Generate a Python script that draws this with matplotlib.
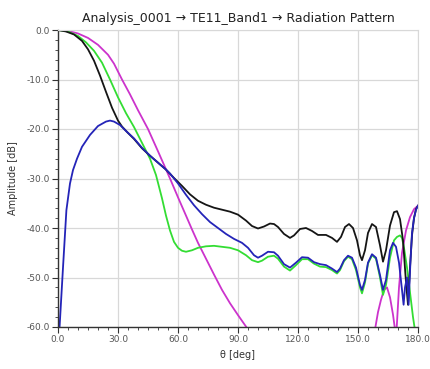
import numpy as np
import matplotlib
matplotlib.use("Agg")
import matplotlib.pyplot as plt
from matplotlib.ticker import MultipleLocator, FormatStrFormatter

# Radiation pattern cuts, theta in degrees, amplitude in dB
theta_black = [0, 4, 8, 12, 15, 18, 21, 24, 27, 30, 32, 35, 38, 42, 46, 50, 54,
               58, 62, 66, 70, 74, 78, 82, 86, 90, 94, 97, 100, 103, 106, 108,
               110, 113, 116, 118, 121, 124, 127, 130, 134, 137, 139.5, 141.5,
               143.5, 145.5, 147.5, 149.5, 151, 152, 153.5, 155, 157, 159, 161,
               162.5, 164, 166, 168, 169.5, 171, 172.5, 174, 175, 176, 177, 178,
               179, 180]
amp_black = [0, -0.3, -0.9, -2.2, -3.9, -6.2, -9.2, -12.5, -15.7, -18.3, -19.5,
             -20.8, -22.0, -23.9, -25.4, -26.8, -28.2, -29.9, -31.5, -33.2,
             -34.5, -35.3, -35.9, -36.3, -36.7, -37.3, -38.5, -39.6, -40.1,
             -39.7, -39.1, -39.2, -39.8, -41.2, -42.0, -41.5, -40.2, -40.0,
             -40.6, -41.4, -41.4, -42.0, -42.8, -41.8, -39.8, -39.2, -40.0,
             -42.5, -45.5, -46.5, -44.5, -41.0, -39.2, -39.8, -43.5, -46.8,
             -44.5, -39.5, -36.8, -36.6, -38.2, -42.5, -51.0, -55.5, -48.0,
             -41.5, -38.0, -36.2, -35.5]

theta_blue = [0.5, 1.5, 2.5, 4.2, 6, 7.5, 9.5, 12, 16, 20, 24, 26, 28, 31, 34,
              38, 42, 46, 50, 54, 56, 60, 64, 68, 72, 76, 80, 84, 88, 92, 95,
              98, 100, 102, 105, 108, 110, 113, 116, 119, 122, 125, 128, 131,
              134, 137, 139.5, 141, 143, 145, 147, 149, 151, 152, 153.5, 155,
              157, 159, 161, 162.5, 164, 166, 167.5, 169, 170.5, 172, 172.8,
              173.5, 174.5, 175.3, 176.2, 177, 178, 179, 180]
amp_blue = [-62.0, -55.0, -48.0, -36.4, -31.0, -28.3, -26.0, -23.6, -21.2,
            -19.4, -18.5, -18.3, -18.5, -19.2, -20.4, -21.9, -23.8, -25.4,
            -26.8, -28.2, -29.0, -31.0, -33.3, -35.4, -37.2, -38.8, -40.0,
            -41.2, -42.2, -43.0, -44.0, -45.5, -46.0, -45.6, -44.8, -44.9,
            -45.6, -47.3, -48.0, -47.0, -45.9, -46.0, -46.9, -47.3, -47.5,
            -48.2, -48.9, -48.2, -46.5, -45.6, -46.0, -48.0, -51.5, -52.5,
            -50.5, -47.0, -45.3, -46.0, -49.5, -52.5, -50.5, -44.5, -43.0,
            -43.8, -47.0, -52.5, -55.5, -52.0, -50.0, -55.5, -47.0, -41.0,
            -38.0, -36.3, -35.5]

theta_green = [0, 5, 10, 14, 18, 22, 26, 30, 34, 38, 42, 46, 49, 52, 54, 56,
               58, 60, 62, 64, 67, 70, 74, 78, 82, 86, 90, 94, 97, 100, 102,
               105, 108, 110, 113, 116, 119, 122, 125, 128, 131, 134, 137,
               139.5, 141, 143, 145, 147, 149, 151, 152, 153.5, 155, 157, 159,
               161, 162.5, 164, 166, 168, 169.5, 171, 172, 173, 174.5, 176,
               177.5, 178.8]
amp_green = [0, -0.3, -1.2, -2.5, -4.2, -6.6, -10.0, -13.6, -16.8, -19.6,
             -22.8, -26.0, -29.3, -34.0, -37.5, -40.5, -42.8, -44.0, -44.6,
             -44.8, -44.5, -44.0, -43.7, -43.6, -43.8, -44.0, -44.5, -45.5,
             -46.5, -46.9, -46.6, -45.8, -45.6, -46.2, -47.8, -48.6, -47.5,
             -46.3, -46.3, -47.2, -47.8, -47.9, -48.5, -49.2, -48.5, -46.7,
             -45.8, -46.3, -48.5, -52.0, -53.2, -51.0, -47.2, -45.5, -46.2,
             -50.0, -53.5, -51.5, -46.0, -42.5, -41.8, -41.5, -42.0, -44.0,
             -48.0, -53.0, -58.0, -61.5]

theta_magenta = [0, 5, 10, 15, 20, 25, 28, 32, 36, 40, 45, 50, 56, 60, 64, 67,
                 70, 74, 78, 82, 86, 90, 94.5, 96, 157.8, 158.5, 160, 161.5,
                 163, 164.5, 166, 167.5, 168.5, 169.3, 170.5, 172, 174, 176,
                 178, 180]
amp_magenta = [0, -0.2, -0.7, -1.6, -3.0, -5.0, -6.8, -10.0, -13.0, -16.2,
               -20.0, -24.5, -30.0, -33.8, -37.5, -40.3, -43.0, -46.2, -49.4,
               -52.5, -55.2, -57.6, -60.2, -62.0, -62.0, -60.5, -57.0, -54.5,
               -52.5, -52.0, -54.0, -57.5, -60.5, -60.5, -52.0, -45.0, -40.5,
               -37.8, -36.2, -35.5]

x_ticks = [0, 30, 60, 90, 120, 150, 180]
y_ticks = [0, -10, -20, -30, -40, -50, -60]

W, H = 431, 369
fig = plt.figure(figsize=(W / 100, H / 100), dpi=100)
ax = fig.add_axes([58 / W, 1 - 327 / H, (418 - 58) / W, (327 - 30) / H])

lw = 1.3
ax.plot(theta_magenta, amp_magenta, color="#cc33cc", lw=lw)
ax.plot(theta_green, amp_green, color="#33dd33", lw=lw)
ax.plot(theta_black, amp_black, color="#151515", lw=lw)
ax.plot(theta_blue, amp_blue, color="#2424b8", lw=lw)

ax.set_xlim(0, 180)
ax.set_ylim(-60, 0)
ax.set_xticks(x_ticks)
ax.set_yticks(y_ticks)
ax.xaxis.set_major_formatter(FormatStrFormatter("%.1f"))
ax.yaxis.set_major_formatter(FormatStrFormatter("%.1f"))
ax.xaxis.set_minor_locator(MultipleLocator(5))
ax.yaxis.set_minor_locator(MultipleLocator(2))

ax.grid(True, which="major", color="#d8d8d8", lw=0.9)
ax.set_axisbelow(True)

for side in ("top", "right"):
    ax.spines[side].set_color("#d8d8d8")
for side in ("left", "bottom"):
    ax.spines[side].set_color("#333333")
    ax.spines[side].set_linewidth(1.0)

ax.tick_params(which="major", length=4, width=0.8, color="#333333",
               labelsize=6.5, labelcolor="#555555", pad=2)
ax.tick_params(which="minor", length=2, width=0.6, color="#333333")

ax.set_xlabel("θ [deg]", fontsize=7, color="#333333", labelpad=4)
ax.set_ylabel("Amplitude [dB]", fontsize=7, color="#333333", labelpad=6)
ax.set_title("Analysis_0001 → TE11_Band1 → Radiation Pattern",
             fontsize=9, color="#222222", pad=6)

fig.savefig("out.png", dpi=100, facecolor="white")
